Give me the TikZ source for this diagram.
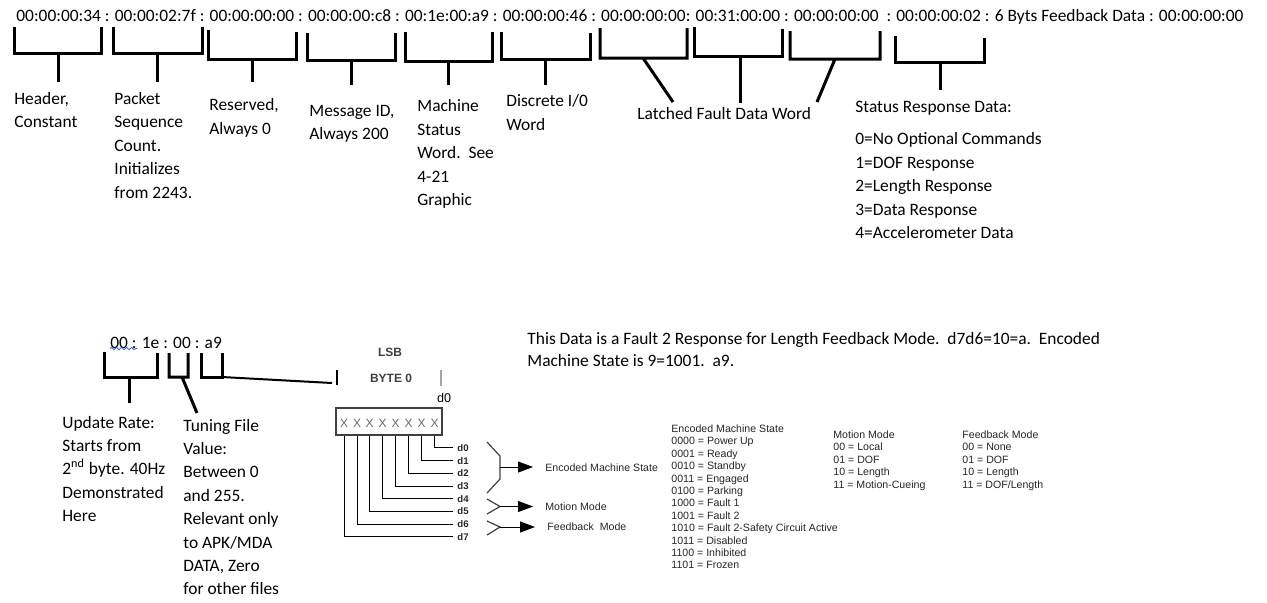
\documentclass[tikz,border=0pt]{standalone}
\usepackage{fontspec}
\setmainfont{Carlito}
\newfontfamily\arialfont{Liberation Sans}
\usepackage{tikz}
\usetikzlibrary{arrows.meta,positioning,calc,decorations.pathmorphing}
\usepackage{xcolor}
\definecolor{MsgGray}{HTML}{404040}
\definecolor{BitGray}{HTML}{6A6A6A}
\definecolor{SpellBlue}{HTML}{3B5BDB}

\begin{document}
\begin{tikzpicture}[x=0.5pt,y=-0.5pt,
    every node/.style={inner sep=0pt,anchor=base west,align=left},
    note/.style={font=\fontsize{8.7}{11.7}\selectfont,anchor=north west,execute at begin node=\strut,yshift=7pt},
    tbl/.style={font=\arialfont\fontsize{5.3}{6.2}\selectfont,text=black!85,anchor=north west,execute at begin node=\strut,yshift=4.34pt},
    bitlbl/.style={font=\arialfont\bfseries\fontsize{4.8}{5}\selectfont,text=black!85},
    bit/.style={anchor=center,font=\arialfont\fontsize{6}{6}\selectfont,text=BitGray},
    brk/.style={line width=1.5pt},
    lead/.style={line width=0.5pt},
    brace/.style={line width=0.6pt,draw=MsgGray},
    bitarrow/.style={line width=0.5pt,-{Triangle[length=7.5pt,width=5.5pt]},shorten >=6pt}]
    \useasboundingbox (0,0) rectangle (1267,602);
    % message frame
    \node[note] (frame) at (16,19) {00:00:00:34 : 00:00:02:7f : 00:00:00:00 : 00:00:00:c8 : 00:1e:00:a9 : 00:00:00:46 : 00:00:00:00: 00:31:00:00 : 00:00:00:00~ : 00:00:00:02 : 6 Byts Feedback Data : 00:00:00:00};
    \foreach \lx/\rx/\tl/\tr/\by/\sx/\sy in {14/101/27/27/53/58/82,113/202/27/27/53/157/82,208/296/30/32/59/252/82,307/395/33/33/60/351/85,405/492/32/32/61/448/85,501/590/32/33/59/545/85,694/782/27/29/56/740/103,895/984/36/38/62/940/90}
      \draw[brk] (\lx,\tl) -- (\lx,\by) -- (\rx,\by) -- (\rx,\tr) (\sx,\by) -- (\sx,\sy);
    \draw[brk] (600,28) -- (600,58) -- (687,58) -- (687,28) (643,58) -- (673,102);
    \draw[brk] (790,31) -- (790,59) -- (880,59) -- (880,31) (835,59) -- (817,102);
    % field notes
    \node[note] (hdr) at (14,106) {Header,\\Constant};
    \node[note] (seq) at (114,106) {Packet\\Sequence\\Count.\\Initializes\\from 2243.};
    \node[note] (rsv) at (209,112.5) {Reserved,\\Always 0};
    \node[note] (msgid) at (309,118.5) {Message ID,\\Always 200};
    \node[note] (mstat) at (417,113.5) {Machine\\Status\\Word.\ \ See\\4-21\\Graphic};
    \node[note] (dio) at (506,108.5) {Discrete I/0\\Word};
    \node[note] (fault) at (637,117) {Latched Fault Data Word};
    \node[note] (srd) at (855,109.5) {Status Response Data:};
    \node[note] (srdlist) at (855,146.5) {0=No Optional Commands\\1=DOF Response\\2=Length Response\\3=Data Response\\4=Accelerometer Data};
    % machine status word
    \node[note] (word) at (110,345.5) {00 : 1e : 00 : a9};
    \draw[SpellBlue,line width=0.4pt,decorate,decoration={snake,amplitude=0.6pt,segment length=2.5pt}] (110,348.5) -- (137,348.5);
    \draw[brk] (104,352) -- (104,377) -- (157,377) -- (157,353) (129,377) -- (129,403);
    \draw[brk] (169,353) -- (169,377) -- (188,377) -- (188,353) (182,377) -- (197,413);
    \draw[brk] (201,353) -- (201,377) -- (222,377) -- (222,353);
    \draw[line width=1pt] (222,377) -- (332,383);
    \draw[line width=1pt] (337,370) -- (337,385);
    \draw[line width=0.8pt,BitGray!60] (441,370) -- (441,386);
    \node[note] (upd) at (62,429.5) {Update Rate:\\Starts from\\2\textsuperscript{nd} byte. 40Hz\\Demonstrated\\Here};
    \node[note] (tune) at (183,432.5) {Tuning File\\Value:\\Between 0\\and 255.\\Relevant only\\to APK/MDA\\DATA, Zero\\for other files};
    \node[note,font=\fontsize{8.7}{11}\selectfont,yshift=-0.49pt] (summary) at (527,345.5) {This Data is a Fault 2 Response for Length Feedback Mode.\ \ d7d6=10=a.\ \ Encoded\\Machine State is 9=1001.\ \ a9.};
    % byte 0
    \node[anchor=center,font=\arialfont\bfseries\fontsize{6}{6}\selectfont,text=MsgGray] (lsb) at (390,352) {LSB};
    \node[anchor=center,font=\arialfont\bfseries\fontsize{6}{6}\selectfont,text=MsgGray] (byte0) at (391,378) {BYTE 0};
    \node[anchor=center,font=\arialfont\fontsize{6.3}{6.3}\selectfont] (topd0) at (444,398) {d0};
    \node[draw=MsgGray,line width=0.6pt,anchor=center,minimum width=53pt,minimum height=13.5pt] (byte) at (389,421.5) {};
    \foreach \i/\xx in {0/344,1/357,2/369.5,3/382.5,4/395.5,5/408.5,6/421.5,7/434.5}
      \node[bit] (bx\i) at (\xx,423) {X};
    \foreach \k in {0,...,7}
      \node[bitlbl] (d\k) at (457,{451.4+12.7*\k}) {d\k};
    \foreach \k in {0,...,7}{
      \pgfmathtruncatemacro\i{7-\k}
      \draw[lead] (bx\i |- byte.south) |- ([xshift=-2pt]d\k.west);
    }
    % bit groups
    \draw[brace] (487,442) -- (500,456) -- (500,479) -- (487,493);
    \draw[brace] (487,499) -- (500,506.5) -- (487,514);
    \draw[brace] (487,521) -- (500,527) -- (487,535);
    \coordinate (emsb) at (500,467);
    \coordinate (mmb) at (500,506.5);
    \coordinate (fbb) at (500,527);
    \node[tbl] (emsl) at (545,471) {Encoded Machine State};
    \node[tbl] (mml) at (545,510) {Motion Mode};
    \node[tbl] (fbl) at (547,530.5) {Feedback\ \ Mode};
    \draw[bitarrow] (emsb) -- (emsb -| emsl.west);
    \draw[bitarrow] (mmb) -- (mmb -| mml.west);
    \draw[bitarrow] (fbb) -- (fbb -| fbl.west);
    % code tables
    \node[tbl] (emstab) at (671,433) {Encoded Machine State\\0000 = Power Up\\0001 = Ready\\0010 = Standby\\0011 = Engaged\\0100 = Parking\\1000 = Fault 1\\1001 = Fault 2\\1010 = Fault 2-Safety Circuit Active\\1011 = Disabled\\1100 = Inhibited\\1101 = Frozen};
    \node[tbl] (mmtab) at (833,439) {Motion Mode\\00 = Local\\01 = DOF\\10 = Length\\11 = Motion-Cueing};
    \node[tbl] (fbtab) at (962,439) {Feedback Mode\\00 = None\\01 = DOF\\10 = Length\\11 = DOF/Length};
  \end{tikzpicture}
\end{document}
